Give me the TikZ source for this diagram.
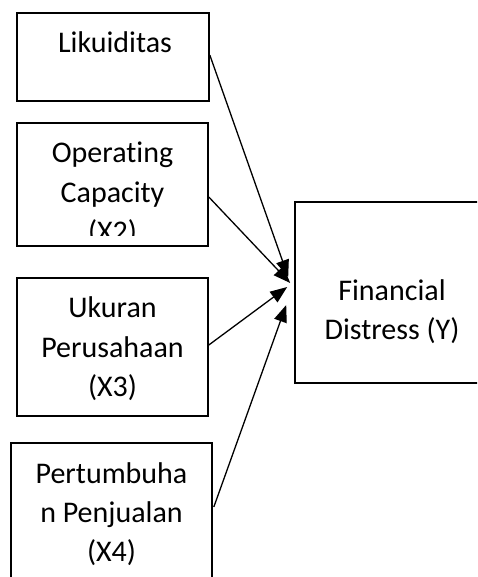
\documentclass[tikz,border=0pt]{standalone}
\usepackage{fontspec}
\setmainfont[Ligatures={NoCommon}]{Carlito}
\usetikzlibrary{arrows.meta}
\begin{document}
\begin{tikzpicture}[x=1pt,y=-1pt,
  box/.style={draw, line width=1.6pt, inner sep=0pt},
  lbl/.style={anchor=base, inner sep=0pt, font=\fontsize{30}{36}\selectfont},
  arr/.style={line width=1.3pt, -{Triangle[length=17pt,width=13pt]}}]
\useasboundingbox (0,0) rectangle (477,577);
\clip (0,0) rectangle (477,577);
% boxes
\node[box, minimum width=192pt, minimum height=88pt] (b1) at (113,57) {};
\node[box, minimum width=191pt, minimum height=123pt] (b2) at (112.5,184.5) {};
\node[box, minimum width=191pt, minimum height=138pt] (b3) at (112.5,347) {};
\node[box, minimum width=201pt, minimum height=157pt] (b4) at (111.5,521.5) {};
\node[box, minimum width=240pt, minimum height=181pt] (bY) at (415,292.5) {};
% texts
\node[lbl] (t1) at (115,53) {Likuiditas};
\node[lbl] (t2a) at (112.5,163) {Operating};
\node[lbl] (t2b) at (112.5,202) {Capacity};
\begin{scope}
\clip (0,0) rectangle (477,235);
\node[lbl] (t2c) at (112.5,241) {(X2)};
\end{scope}
\node[lbl] (t3a) at (112.5,317) {Ukuran};
\node[lbl] (t3b) at (112.5,357) {Perusahaan};
\node[lbl] (t3c) at (112.5,396) {(X3)};
\node[lbl] (t4a) at (111.5,483) {Pertumbuha};
\node[lbl] (t4b) at (111.5,522) {n Penjualan};
\node[lbl] (t4c) at (111.5,561) {(X4)};
\node[lbl] (tYa) at (392,300) {Financial};
\node[lbl] (tYb) at (392,339) {Distress (Y)};
% arrow tips
\coordinate (p1) at ([xshift=-6pt,yshift=15.5pt]bY.west);
\coordinate (p2) at ([xshift=-4pt,yshift=9.5pt]bY.west);
\coordinate (p3) at ([xshift=-7pt,yshift=5.5pt]bY.west);
\coordinate (p4) at ([xshift=-8pt,yshift=-12.5pt]bY.west);
\draw[arr] ([yshift=2pt]b1.east) -- (p1);
\draw[arr] ([yshift=-12.5pt]b2.east) -- (p2);
\draw[arr] ([yshift=2pt]b3.east) -- (p3);
\draw[arr] ([xshift=1pt,yshift=14.5pt]b4.east) -- (p4);
\end{tikzpicture}
\end{document}
